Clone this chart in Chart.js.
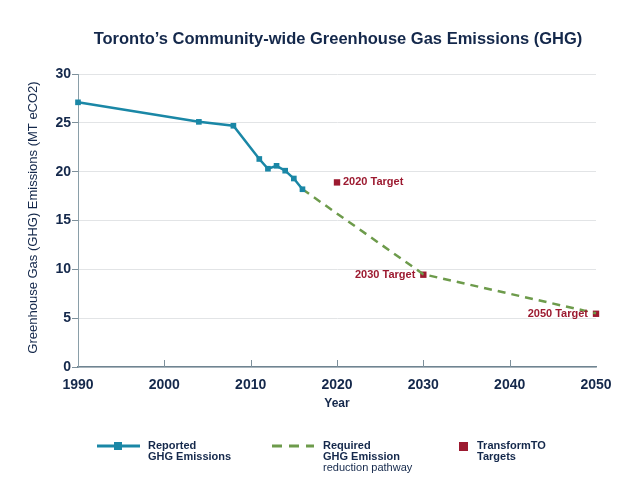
<!DOCTYPE html>
<html lang="en">
<head>
  <meta charset="UTF-8" />
  <title>Toronto GHG Emissions</title>
  <script src="https://cdn.jsdelivr.net/npm/chart.js"></script>
  <style>
    html, body {
      margin: 0;
      padding: 0;
      background: #ffffff;
    }
    .wrap {
      width: 640px;
      height: 495px;
      position: relative;
    }
  </style>
</head>
<body>
  <div class="wrap">
    <canvas id="ghgChart" width="640" height="495"></canvas>
  </div>

  <script>
    // Data
    const reportedYears = [1990, 2004, 2008, 2011, 2012, 2013, 2014, 2015, 2016];
    const reportedValues = [27.1, 25.1, 24.7, 21.3, 20.3, 20.6, 20.1, 19.3, 18.2];

    const pathwayYears = [2016, 2030, 2050];
    const pathwayValues = [18.2, 9.5, 5.5];

    const targetYears = [2020, 2030, 2050];
    const targetValues = [18.9, 9.45, 5.45];
    const targetLabels = ['2020 Target', '2030 Target', '2050 Target'];

    const xTickValues = [1990, 2000, 2010, 2020, 2030, 2040, 2050];
    const yTickValues = [0, 5, 10, 15, 20, 25, 30];

    const legendLabels = [
      ['Reported', 'GHG Emissions'],
      ['Required', 'GHG Emission', 'reduction pathway'],
      ['TransformTO', 'Targets']
    ];

    const navy = '#14284b';
    const teal = '#1a87a6';
    const green = '#6d9b4b';
    const red = '#9c1a30';
    const font = '"Liberation Sans", Arial, sans-serif';

    const toPoints = (xs, ys) => xs.map((x, i) => ({ x: x, y: ys[i] }));

    // titles, x tick marks (inward), target labels and bottom legend
    const decorations = {
      id: 'decorations',
      afterDraw(chart) {
        const ctx = chart.ctx;
        const area = chart.chartArea;
        const xs = chart.scales.x;
        ctx.save();

        // chart title
        ctx.fillStyle = navy;
        ctx.font = 'bold 16.5px ' + font;
        ctx.textAlign = 'center';
        ctx.textBaseline = 'middle';
        ctx.fillText('Toronto\u2019s Community-wide Greenhouse Gas Emissions (GHG)', 338, 39);

        // axis titles
        ctx.font = 'bold 12px ' + font;
        ctx.fillText('Year', (area.left + area.right) / 2, 404);
        ctx.save();
        ctx.translate(33, (area.top + area.bottom) / 2 - 3);
        ctx.rotate(-Math.PI / 2);
        ctx.font = '13px ' + font;
        ctx.fillText('Greenhouse Gas (GHG) Emissions (MT eCO2)', 0, 0);
        ctx.restore();

        // x tick marks pointing into the plot
        ctx.strokeStyle = '#7d909b';
        ctx.lineWidth = 1;
        xTickValues.slice(1, -1).forEach(v => {
          const px = Math.round(xs.getPixelForValue(v)) + 0.5;
          ctx.beginPath();
          ctx.moveTo(px, area.bottom);
          ctx.lineTo(px, area.bottom - 7);
          ctx.stroke();
        });

        // target labels
        const meta = chart.getDatasetMeta(2);
        ctx.fillStyle = red;
        ctx.font = 'bold 11px ' + font;
        ctx.textBaseline = 'middle';
        meta.data.forEach((pt, i) => {
          if (i === 0) {
            ctx.textAlign = 'left';
            ctx.fillText(targetLabels[i], pt.x + 6, pt.y);
          } else {
            ctx.textAlign = 'right';
            ctx.fillText(targetLabels[i], pt.x - 8, pt.y);
          }
        });

        // legend
        const ds = chart.data.datasets;
        const ly = 446;
        ctx.lineCap = 'butt';

        ctx.strokeStyle = ds[0].borderColor;
        ctx.lineWidth = 3;
        ctx.beginPath();
        ctx.moveTo(97, ly);
        ctx.lineTo(140, ly);
        ctx.stroke();
        ctx.fillStyle = ds[0].pointBackgroundColor;
        ctx.fillRect(114, ly - 4, 8, 8);

        ctx.strokeStyle = ds[1].borderColor;
        ctx.setLineDash([10, 7]);
        ctx.beginPath();
        ctx.moveTo(272, ly);
        ctx.lineTo(314, ly);
        ctx.stroke();
        ctx.setLineDash([]);

        ctx.fillStyle = ds[2].pointBackgroundColor;
        ctx.fillRect(459, ly - 4, 9, 9);

        const legendX = [148, 323, 477];
        ctx.fillStyle = navy;
        ctx.textAlign = 'left';
        legendLabels.forEach((lines, i) => {
          lines.forEach((line, j) => {
            ctx.font = (j < 2 ? 'bold ' : '') + '11px ' + font;
            ctx.fillText(line, legendX[i], ly + j * 11);
          });
        });

        ctx.restore();
      }
    };

    const ctx = document.getElementById('ghgChart').getContext('2d');

    const ghgChart = new Chart(ctx, {
      type: 'line',
      data: {
        datasets: [
          {
            label: 'Reported GHG Emissions',
            data: toPoints(reportedYears, reportedValues),
            borderColor: teal,
            borderWidth: 2.5,
            pointStyle: 'rect',
            pointRadius: 4,
            pointBackgroundColor: teal,
            pointBorderColor: teal,
            pointBorderWidth: 0,
            tension: 0,
            clip: false
          },
          {
            label: 'Required GHG Emission reduction pathway',
            data: toPoints(pathwayYears, pathwayValues),
            borderColor: green,
            borderWidth: 2.5,
            borderDash: [8, 6],
            pointRadius: 0,
            tension: 0,
            clip: false
          },
          {
            label: 'TransformTO Targets',
            data: toPoints(targetYears, targetValues),
            showLine: false,
            pointStyle: 'rect',
            pointRadius: 4.5,
            pointBackgroundColor: red,
            pointBorderColor: red,
            pointBorderWidth: 0,
            clip: false
          }
        ]
      },
      options: {
        responsive: false,
        animation: false,
        devicePixelRatio: 1,
        layout: {
          padding: { left: 0, right: 44, top: 74, bottom: 0 }
        },
        plugins: {
          legend: { display: false },
          title: { display: false },
          tooltip: { enabled: false }
        },
        scales: {
          x: {
            type: 'linear',
            min: 1990,
            max: 2050,
            afterFit: scale => { scale.height = 128; },
            afterBuildTicks: scale => { scale.ticks = xTickValues.map(v => ({ value: v })); },
            grid: { display: false },
            border: { display: true, color: '#6f8491', width: 1.5 },
            ticks: {
              color: navy,
              padding: 2,
              maxRotation: 0,
              font: { family: font, size: 14, weight: 'bold' },
              callback: v => String(v)
            }
          },
          y: {
            min: 0,
            max: 30,
            afterFit: scale => { scale.width = 78; },
            afterBuildTicks: scale => { scale.ticks = yTickValues.map(v => ({ value: v })); },
            grid: {
              color: '#e2e4e6',
              lineWidth: 1,
              tickLength: 6,
              tickColor: '#7d909b'
            },
            border: { display: true, color: '#8a9ea8', width: 1 },
            ticks: {
              color: navy,
              padding: 1,
              font: { family: font, size: 14, weight: 'bold' }
            }
          }
        }
      },
      plugins: [decorations]
    });
  </script>
</body>
</html>
